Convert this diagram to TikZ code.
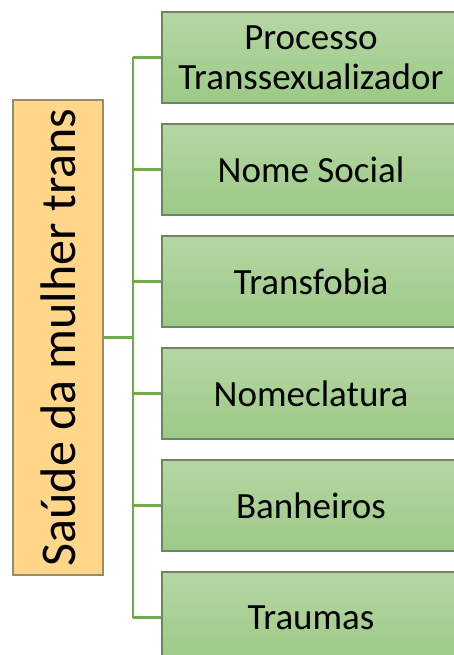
\documentclass[tikz,border=0pt]{standalone}
\usepackage{fontspec}
\setmainfont{Carlito}
\usetikzlibrary{positioning}

\definecolor{topicfill}{RGB}{255,214,138}
\definecolor{topicline}{RGB}{150,140,110}
\definecolor{itemtop}{RGB}{182,214,164}
\definecolor{itembot}{RGB}{156,202,133}
\definecolor{itemline}{RGB}{110,132,98}
\definecolor{branch}{RGB}{112,173,71}

\tikzset{
  topic/.style={draw=topicline, line width=1.2pt, fill=topicfill,
    minimum width=475, minimum height=90, inner sep=0pt,
    rotate=90, font=\fontsize{50}{54}\selectfont},
  item/.style={draw=itemline, line width=1.5pt, top color=itemtop, bottom color=itembot,
    minimum width=298, minimum height=91, inner sep=0pt, align=center,
    font=\fontsize{37}{40}\selectfont},
  branchline/.style={draw=branch, line width=2.6pt}
}

\begin{document}
\begin{tikzpicture}[x=1pt,y=-1pt]
  \clip (0,0) rectangle (454,655);

  \node[topic] (main) at (58,337.5) {Saúde da mulher trans};

  \node[item] (b1) at (311,57.5) {Processo\\Transsexualizador};
  \node[item] (b2) at (311,169.5) {Nome Social};
  \node[item] (b3) at (311,281.5) {Transfobia};
  \node[item] (b4) at (311,393.5) {Nomeclatura};
  \node[item] (b5) at (311,505.5) {Banheiros};
  \node[item] (b6) at (311,617.5) {Traumas};

  % tree lines
  \coordinate (hub) at (133,337.5);
  \draw[branchline] (main.south) -- (hub);
  \draw[branchline] (hub |- b1.west) -- (hub |- b6.west);
  \foreach \i in {1,...,6}
    \draw[branchline] (hub |- b\i.west) -- (b\i.west);
\end{tikzpicture}
\end{document}
